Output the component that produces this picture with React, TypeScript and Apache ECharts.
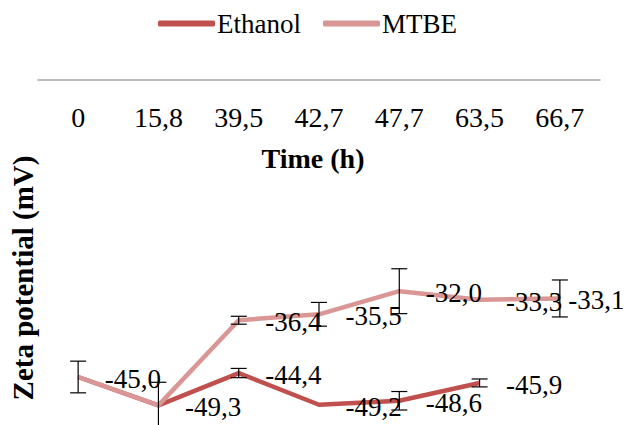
import React, { useEffect, useRef } from "react";
import * as echarts from "echarts";

const categories = ["0", "15,8", "39,5", "42,7", "47,7", "63,5", "66,7"];
const ethanolValues: (number | string)[] = [-45.0, -49.3, -44.4, -49.2, -48.6, -45.9, "-"];
const mtbeValues: number[] = [-45.0, -49.3, -36.4, -35.5, -32.0, -33.3, -33.1];
const ethanolErrors: number[] = [0, 3.5, 0.7, 0, 1.4, 0.6, 0];
const mtbeErrors: number[] = [2.4, 0, 0.6, 1.8, 3.4, 0, 2.8];
const hiddenMtbeLabels = [0, 1];

const FONT = "Liberation Serif";

function fmt(v: number) {
  return v.toFixed(1).replace(".", ",");
}

function errData(vals: (number | string)[], errs: number[]) {
  const out: number[][] = [];
  vals.forEach((v, i) => {
    if (typeof v === "number" && errs[i] > 0) out.push([i, v, errs[i]]);
  });
  return out;
}

function renderErr(params: any, api: any) {
  const x = api.value(0);
  const y = api.value(1);
  const e = api.value(2);
  const top = api.coord([x, y + e]);
  const bot = api.coord([x, y - e]);
  const hw = 8;
  const style = { stroke: "#000", lineWidth: 1.2 };
  return {
    type: "group",
    children: [
      { type: "line", shape: { x1: top[0], y1: top[1], x2: bot[0], y2: bot[1] }, style },
      { type: "line", shape: { x1: top[0] - hw, y1: top[1], x2: top[0] + hw, y2: top[1] }, style },
      { type: "line", shape: { x1: bot[0] - hw, y1: bot[1], x2: bot[0] + hw, y2: bot[1] }, style },
    ],
  };
}

export default function App() {
  const ref = useRef<HTMLDivElement>(null);
  useEffect(() => {
    document.body.style.margin = "0";
    if (!ref.current) return;
    const chart = echarts.init(ref.current, null, { renderer: "svg" });
    const labelCfg = {
      show: true,
      position: "right",
      distance: 26,
      offset: [0, 2],
      fontFamily: FONT,
      fontSize: 27,
      color: "#000",
      formatter: (p: any) => fmt(typeof p.value === "number" ? p.value : Number(p.value)),
    };
    const lastIdx = mtbeValues.length - 1;
    chart.setOption({
      animation: false,
      legend: {
        top: 5,
        left: 153,
        icon: "roundRect",
        itemWidth: 57,
        itemHeight: 6,
        itemGap: 22,
        textStyle: { fontFamily: FONT, fontSize: 27, color: "#000", padding: [0, 0, 0, -3] },
        data: ["Ethanol", "MTBE"],
      },
      grid: { left: 38, right: 28, top: 80, bottom: -51, outerBoundsMode: "none", containLabel: false },
      xAxis: {
        type: "category",
        position: "top",
        data: categories,
        boundaryGap: true,
        axisLine: { show: true, lineStyle: { color: "#A6A6A6", width: 1.5 } },
        axisTick: { show: false },
        axisLabel: { inside: true, margin: 23, fontFamily: FONT, fontSize: 28, color: "#000" },
        name: "Time (h)",
        nameLocation: "middle",
        nameGap: -92,
        nameTextStyle: {
          fontFamily: FONT,
          fontSize: 28,
          fontWeight: "bold",
          color: "#000",
          padding: [0, 12, 0, 0],
        },
        splitLine: { show: false },
      },
      yAxis: {
        type: "value",
        min: -60,
        max: 0,
        axisLine: { show: false },
        axisTick: { show: false },
        axisLabel: { show: false },
        splitLine: { show: false },
        name: "Zeta potential (mV)",
        nameLocation: "middle",
        nameGap: 1,
        nameTextStyle: { fontFamily: FONT, fontSize: 29, fontWeight: "bold", color: "#000" },
      },
      series: [
        {
          name: "Ethanol",
          type: "line",
          data: ethanolValues,
          symbol: "circle",
          symbolSize: 1,
          showSymbol: true,
          itemStyle: { color: "#C0504D" },
          lineStyle: { color: "#C0504D", width: 4.5 },
          label: labelCfg,
          z: 2,
        },
        {
          name: "MTBE",
          type: "line",
          data: mtbeValues.map((v, i) =>
            hiddenMtbeLabels.includes(i)
              ? { value: v, label: { show: false } }
              : i === lastIdx
              ? { value: v, label: { distance: 8 } }
              : v
          ),
          symbol: "circle",
          symbolSize: 1,
          showSymbol: true,
          itemStyle: { color: "#D99694" },
          lineStyle: { color: "#D99694", width: 4.5 },
          label: labelCfg,
          z: 3,
        },
        {
          type: "custom",
          renderItem: renderErr,
          data: errData(ethanolValues, ethanolErrors),
          encode: { x: 0, y: 1 },
          z: 4,
          silent: true,
        },
        {
          type: "custom",
          renderItem: renderErr,
          data: errData(mtbeValues, mtbeErrors),
          encode: { x: 0, y: 1 },
          z: 4,
          silent: true,
        },
      ],
    });
    return () => chart.dispose();
  }, []);
  return <div ref={ref} style={{ width: 628, height: 425 }} />;
}
